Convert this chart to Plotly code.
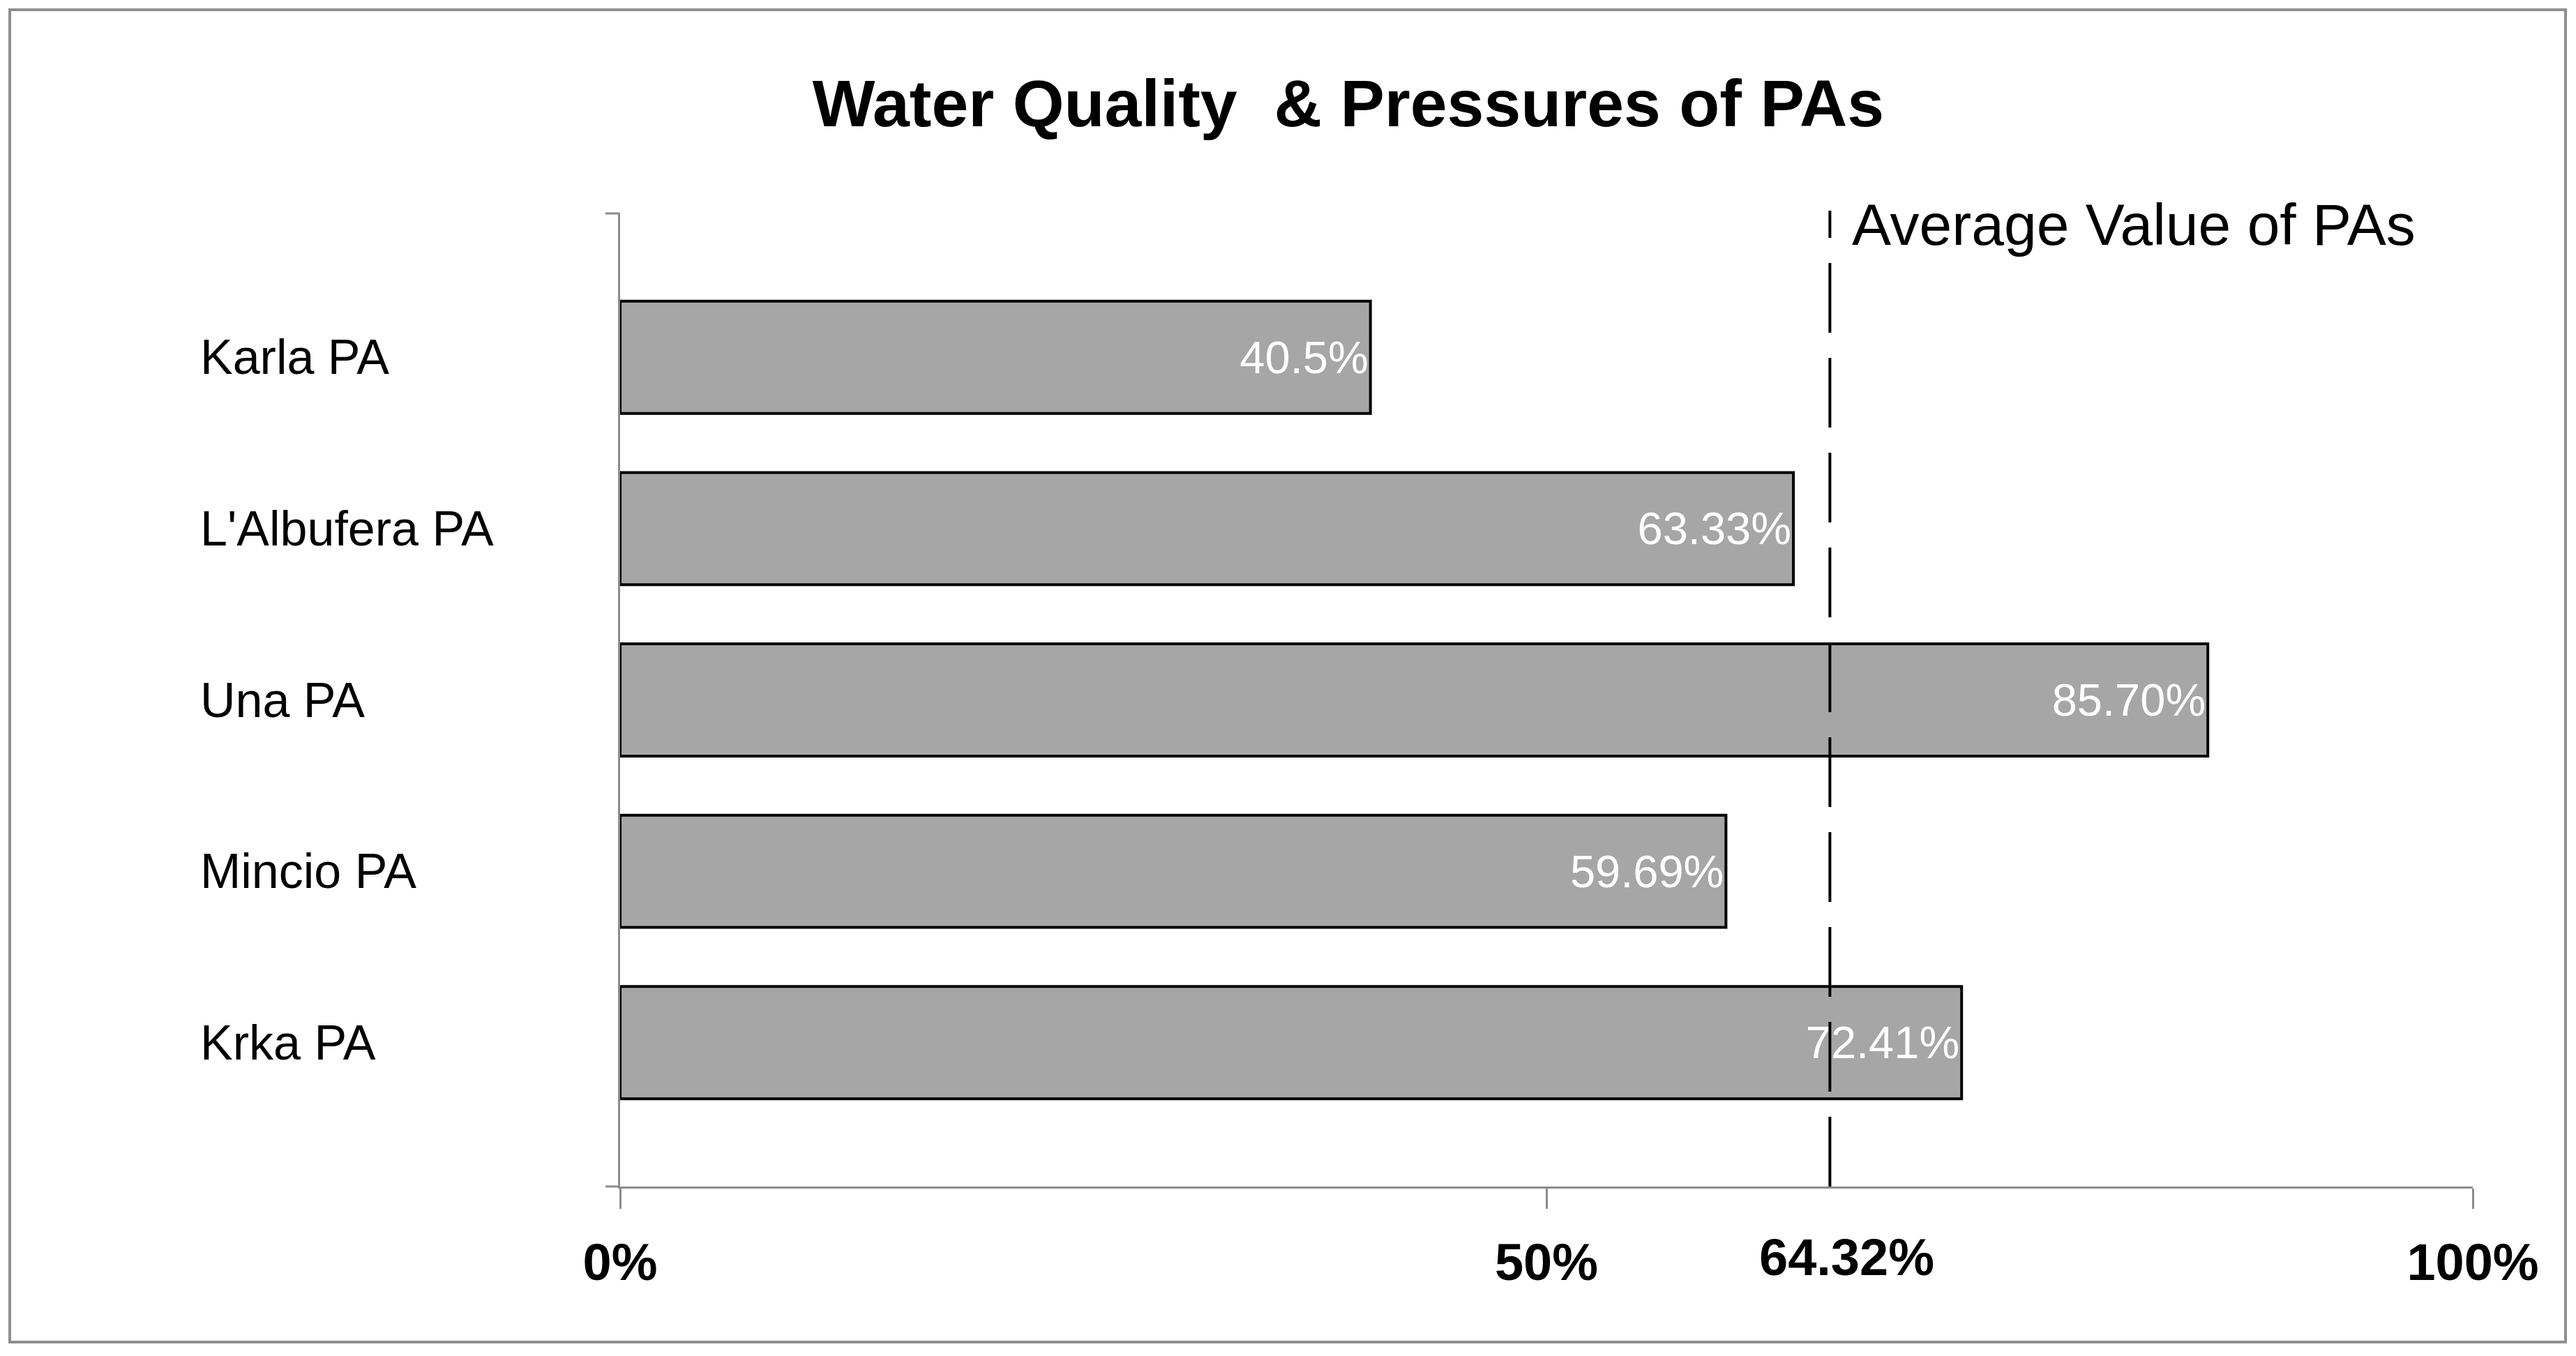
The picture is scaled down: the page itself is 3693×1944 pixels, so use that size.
import plotly.graph_objects as go

# data
areas = ["Karla PA", "L'Albufera PA", "Una PA", "Mincio PA", "Krka PA"]
scores = [40.5, 63.33, 85.70, 59.69, 72.41]
score_labels = ["40.5%", "63.33%", "85.70%", "59.69%", "72.41%"]
x_ticks = [0, 50, 100]
x_tick_labels = ["0%", "50%", "100%"]
avg_line_at = 65.3          # where the dashed line sits in the picture
avg_label = "64.32%"
avg_text = "Average Value of PAs"

W, H = 3693, 1944
L, R, T, B = 889, 3545, 306, 1701   # plot area in pixels
FONT = "Liberation Sans, Arial, sans-serif"
GREY = "#8c8c8c"


def px_x(p):
    return (p - L) / (R - L)


def px_y(p):
    return (B - p) / (B - T)


fig = go.Figure()
fig.add_trace(go.Bar(
    x=scores, y=list(range(len(areas))), orientation="h",
    marker=dict(color="#a6a6a6", line=dict(color="black", width=4)),
    text=score_labels, textposition="inside", insidetextanchor="end",
    textangle=0, constraintext="none",
    textfont=dict(family=FONT, size=65, color="white"),
    showlegend=False, hoverinfo="skip",
))

fig.update_layout(
    width=W, height=H,
    margin=dict(l=L, r=W - R, t=T, b=H - B, pad=0),
    paper_bgcolor="white", plot_bgcolor="white",
    bargap=0.345,
    title=dict(text="Water Quality \u00a0& Pressures of PAs", x=1933 / W, y=1 - 148 / H,
               xanchor="center", yanchor="middle",
               font=dict(family=FONT, size=95, color="black", weight="bold")),
)
fig.update_xaxes(range=[0, 100], tickvals=x_ticks, ticktext=x_tick_labels,
                 showgrid=False, zeroline=False, showline=True, linecolor=GREY, linewidth=3,
                 ticks="outside", ticklen=29, tickwidth=3, tickcolor=GREY, ticklabelstandoff=13,
                 tickfont=dict(family=FONT, size=74, color="black", weight="bold"))
fig.update_yaxes(range=[len(areas) - 1 + 0.84, -0.84], showgrid=False, zeroline=False,
                 showline=True, linecolor=GREY, linewidth=3, showticklabels=False, ticks="")

# small end ticks on the category axis
for yy in (0, 1):
    fig.add_shape(type="line", xref="paper", yref="paper", x0=px_x(868), x1=0, y0=yy, y1=yy,
                  line=dict(color=GREY, width=3))

# category labels, left aligned
for i, name in enumerate(areas):
    fig.add_annotation(text=name, x=px_x(285), y=i, xref="paper", yref="y",
                       xanchor="left", yanchor="middle", showarrow=False,
                       font=dict(family=FONT, size=70, color="black"))

# average line and its labels
fig.add_shape(type="line", xref="x", yref="paper", x0=avg_line_at, x1=avg_line_at,
              y0=0, y1=px_y(302), line=dict(color="black", width=4, dash="100px,36px"))
fig.add_annotation(text=avg_text, x=avg_line_at, y=px_y(322), xref="x", yref="paper",
                   xanchor="left", yanchor="middle", xshift=30, showarrow=False,
                   font=dict(family=FONT, size=84, color="black"))
fig.add_annotation(text=avg_label, x=avg_line_at, y=px_y(1802), xref="x", yref="paper",
                   xanchor="center", yanchor="middle", xshift=24, showarrow=False,
                   font=dict(family=FONT, size=74, color="black", weight="bold"))

# outer frame
fig.add_shape(type="rect", xref="paper", yref="paper",
              x0=px_x(14), x1=px_x(3678), y0=px_y(1924), y1=px_y(14),
              line=dict(color="#8f8f8f", width=4), fillcolor="rgba(0,0,0,0)")

# drop the browser's default page margin so the figure sits at the top-left corner
fig.write_html("out.html", config={"displayModeBar": False},
               post_script="document.body.style.margin = '0';")
